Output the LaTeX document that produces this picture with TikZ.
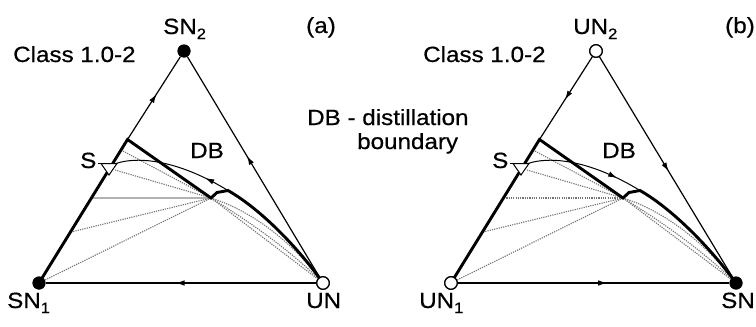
\documentclass[tikz,border=0pt]{standalone}
\usepackage{fontspec}
\usepackage{graphicx}
\newfontfamily\labfont[FakeBold=0.5]{Liberation Sans}
\usetikzlibrary{arrows.meta,decorations.markings}
\tikzset{
 lbl/.style={font=\labfont\fontsize{22}{24}\selectfont, inner sep=0pt, anchor=base west},
 edgeline/.style={line width=1.2pt, black},
 thickpath/.style={line width=2.9pt, line join=miter},
 tie/.style={line width=1.1pt, black!55, dash pattern=on 1.2pt off 1.1pt},
 tiesolid/.style={line width=1.3pt, gray!60},
 dbline/.style={line width=1pt},
 midarrow/.style={postaction={decorate}, decoration={markings, mark=at position #1 with {\arrow{Latex[length=9pt,width=5.5pt]}}}},
 midarrowrev/.style={postaction={decorate}, decoration={markings, mark=at position #1 with {\arrowreversed{Latex[length=9pt,width=5.5pt]}}}},
 stablenode/.style={circle, fill=black, minimum size=13pt, inner sep=0pt},
 unstablenode/.style={circle, draw=black, fill=white, line width=1.2pt, minimum size=12.5pt, inner sep=0pt},
 saddlemark/.style={fill=white, draw=black, line width=1pt, line join=miter},
}
\newcommand\wtext[1]{\scalebox{1.1}[1]{#1}}
\newcommand\subtxt[1]{\raisebox{-5pt}{\fontsize{15}{15}\selectfont #1}}
\begin{document}
\begin{tikzpicture}[x=1pt,y=-1pt]
\useasboundingbox (0,0) rectangle (756,327);
\fill[white] (0,0) rectangle (756,327);

% ================= panel (a) =================
\node[stablenode] (aSN1) at (39,283) {};
\node[stablenode] (aSN2) at (184,51) {};
\node[unstablenode] (aUN) at (323,283) {};
\coordinate (aC) at (127.5,139.5);
\coordinate (aP) at (211,198);
\coordinate (aK) at (217,192.5);
\coordinate (aQ) at (228,190.5);
\coordinate (aT) at (116,163.5);
\coordinate (aS1) at (115,170);
\coordinate (aE1) at (121,150);
\coordinate (aE2) at (92,198);
\coordinate (aE3) at (71,232);

% edges
\draw[edgeline] (aSN1) -- (aC);
\draw[edgeline, midarrow=0.55] (aC) -- (aSN2);
\draw[edgeline, midarrow=0.55] (aUN) -- (aSN2);
\draw[edgeline, midarrow=0.52] (aUN) -- (aSN1);

% tie lines
\draw[tie] (aE1) -- (aP);
\draw[tie] (aS1) -- (aP);
\draw[tiesolid] (aE2) -- (aP);
\draw[tie] (aE3) -- (aP);
\draw[tie] (aSN1.center) -- (aP);
\draw[tie] (aP) -- (aUN.center);
\draw[tie] (aP) .. controls (250,222) and (290,250) .. (aUN.center);
\draw[tie] (aP) .. controls (255,212) and (295,245) .. (aUN.center);
\draw[tie] (aP) -- (aK);

% distillation boundary
\draw[dbline, midarrowrev=0.78] (aT) .. controls (138,156) and (178,160) .. (aQ);

% thick profile
\draw[thickpath] (aSN1.center) -- (aC) -- (aP) -- (aK) -- (aQ) .. controls (262,210) and (300,250) .. (aUN.center);

% saddle
\draw[saddlemark] (101,163.5) -- (117,163.5) -- (109,175) -- cycle;
\draw[line width=1pt] (98,163.5) -- (101,163.5);

\node[stablenode] at (aSN1) {};
\node[stablenode] at (aSN2) {};
\node[unstablenode] at (aUN) {};

% labels
\node[lbl] (aclass) at (13,62) {\wtext{Class 1.0-2}};
\node[lbl] (asn2lab) at (163,34) {\wtext{SN\subtxt{2}}};
\node[lbl] (alab) at (306,33) {\wtext{(a)}};
\node[lbl] (adblegend) at (307,125) {\wtext{DB - distillation}};
\node[lbl] (aboundary) at (357,149) {\wtext{boundary}};
\node[lbl] (adb) at (190,158) {\wtext{DB}};
\node[lbl] (aslab) at (80,168) {\wtext{S}};
\node[lbl] (asn1lab) at (7,308) {\wtext{SN\subtxt{1}}};
\node[lbl] (aunlab) at (306,308) {\wtext{UN}};

% ================= panel (b) =================
\begin{scope}[xshift=412pt]
\node[unstablenode] (bUN1) at (39,283) {};
\node[unstablenode] (bUN2) at (184,51) {};
\node[stablenode] (bSN) at (324,283) {};
\coordinate (bC) at (127.5,139.5);
\coordinate (bP) at (211,198);
\coordinate (bK) at (217,192.5);
\coordinate (bQ) at (228,190.5);
\coordinate (bT) at (116,163.5);
\coordinate (bS1) at (115,170);
\coordinate (bE1) at (121,150);
\coordinate (bE2) at (92,198);
\coordinate (bE3) at (71,232);

\draw[edgeline] (bUN1) -- (bC);
\draw[edgeline, midarrow=0.52] (bUN2) -- (bC);
\draw[edgeline, midarrow=0.52] (bUN2) -- (bSN);
\draw[edgeline, midarrow=0.55] (bUN1) -- (bSN);

\draw[tie] (bE1) -- (bP);
\draw[tie] (bS1) -- (bP);
\draw[tie] (bE2) -- (bP);
\draw[tie] (bE3) -- (bP);
\draw[tie] (bUN1.center) -- (bP);
\draw[tie] (bP) -- (bSN.center);
\draw[tie] (bP) .. controls (250,222) and (290,250) .. (bSN.center);
\draw[tie] (bP) .. controls (255,212) and (295,245) .. (bSN.center);
\draw[tie] (bP) -- (bK);

\draw[dbline, midarrow=0.78] (bT) .. controls (138,156) and (178,160) .. (bQ);

\draw[thickpath] (bUN1.center) -- (bC) -- (bP) -- (bK) -- (bQ) .. controls (262,210) and (300,250) .. (bSN.center);

\draw[saddlemark] (101,163.5) -- (117,163.5) -- (109,175) -- cycle;
\draw[line width=1pt] (98,163.5) -- (101,163.5);

\node[unstablenode] at (bUN1) {};
\node[unstablenode] at (bUN2) {};
\node[stablenode] at (bSN) {};

\node[lbl] (bclass) at (11,62) {\wtext{Class 1.0-2}};
\node[lbl] (bun2lab) at (161,34) {\wtext{UN\subtxt{2}}};
\node[lbl] (blab) at (313,33) {\wtext{(b)}};
\node[lbl] (bdb) at (190,158) {\wtext{DB}};
\node[lbl] (bslab) at (80,168) {\wtext{S}};
\node[lbl] (bun1lab) at (7,308) {\wtext{UN\subtxt{1}}};
\node[lbl] (bsnlab) at (309,308) {\wtext{SN}};
\end{scope}
\end{tikzpicture}
\end{document}
